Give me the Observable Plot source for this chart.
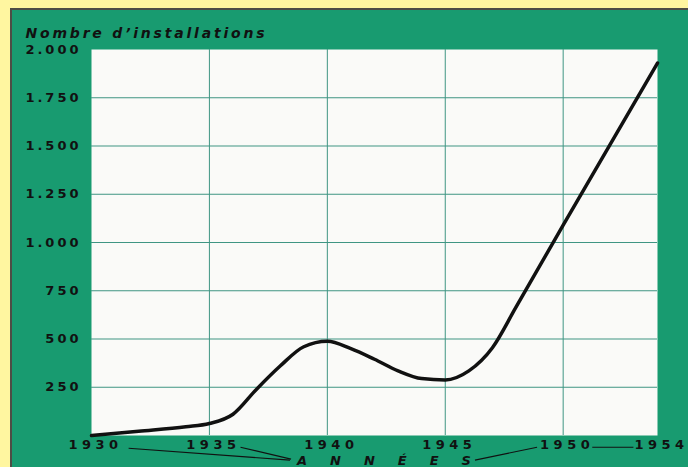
<!DOCTYPE html>
<html>
<head>
<meta charset="utf-8">
<script src="https://cdn.jsdelivr.net/npm/d3@7"></script>
<script src="https://cdn.jsdelivr.net/npm/@observablehq/plot@0.6"></script>
<style>
html,body{margin:0;padding:0;background:#fff6a0;width:688px;height:467px;overflow:hidden}
#panel{position:absolute;left:10px;top:8px;width:678px;height:459px;border-left:2px solid #4d4d45;border-top:2px solid #4d4d45;background:#189b70}
#chart{position:absolute;left:0;top:0}
#chart g[aria-label="y-axis tick label"]{font:900 13px "DejaVu Sans";letter-spacing:3px}
#chart g[aria-label="x-axis tick label"]{font:900 13px "DejaVu Sans";letter-spacing:4.5px}
</style>
</head>
<body>
<div id="panel"><div id="chart"></div></div>
<script>
// Data
const years = [1930,1932,1934,1935,1936,1937,1938,1939,1940,1941,1942,1943,1944,1945,1946,1947,1948,1950,1952,1954];
const installations = [0,22,45,62,110,240,360,460,488,450,395,335,295,288,335,455,665,1090,1510,1930];
const xTicks = [1930,1935,1940,1945,1950,1954];
const yTicks = [250,500,750,1000,1250,1500,1750,2000];
const title = "Nombre d’installations";
const axisTitle = "ANNÉES";

const data = years.map((y,i)=>({year:y, value:installations[i]}));
const fmt = d => d3.format(",")(d).replace(",", ".");
const gridColor = "#3f9583";

const plot = Plot.plot({
  width: 676, height: 457,
  marginLeft: 79, marginTop: 39, marginRight: 31, marginBottom: 32,
  style: {background: "transparent", fontFamily: "DejaVu Sans", color: "#111", overflow: "visible"},
  x: {domain: [1930, 1954], label: null},
  y: {domain: [0, 2000], label: null},
  marks: [
    Plot.frame({fill: "#fafaf8"}),
    Plot.gridX(xTicks.slice(1, -1), {stroke: gridColor, strokeOpacity: 1, strokeWidth: 1}),
    Plot.gridY(yTicks.slice(0, -1), {stroke: gridColor, strokeOpacity: 1, strokeWidth: 1}),
    Plot.axisY(yTicks, {tickSize: 0, tickPadding: 10, tickFormat: fmt, label: null, fill: "#111"}),
    Plot.axisX(xTicks, {tickSize: 0, tickPadding: 4, tickFormat: d => String(d), dx: 4, label: null, fill: "#111"}),
    Plot.line(data, {x: "year", y: "value", curve: "monotone-x", stroke: "#111", strokeWidth: 3.5, strokeLinecap: "round"}),
    Plot.text([title], {text: d => d, frameAnchor: "top-left", lineAnchor: "middle", dx: -66, dy: -16,
      fontSize: 14, fontStyle: "italic", fontWeight: 900, fill: "#111"}),
    Plot.text([axisTitle], {text: d => d, frameAnchor: "bottom", lineAnchor: "middle", dx: 21, dy: 25,
      fontSize: 13, fontStyle: "italic", fontWeight: 900, fill: "#111"})
  ]
});
document.getElementById("chart").append(plot);

const svg = plot.tagName.toLowerCase() === "svg" ? plot : plot.querySelector("svg");
const allText = Array.from(svg.querySelectorAll("text"));
const titleEl = allText.find(t => t.textContent === title);
const annEl = allText.find(t => t.textContent === axisTitle);
const annSpacing = 23;
if (titleEl) titleEl.style.letterSpacing = "2.8px";
if (annEl) annEl.style.letterSpacing = annSpacing + "px";

// Decorative connector strokes between year labels and "ANNÉES", derived from rendered label positions
const sr = svg.getBoundingClientRect();
const box = el => { const b = el.getBoundingClientRect(); return {l: b.left - sr.left, r: b.right - sr.left, cy: (b.top + b.bottom) / 2 - sr.top}; };
const labs = {};
svg.querySelectorAll('g[aria-label="x-axis tick label"] text').forEach(t => labs[t.textContent] = box(t));
const segs = [];
if (annEl) {
  const ann = box(annEl);
  const annR = ann.r - annSpacing;
  if (labs["1930"]) segs.push([labs["1930"].r + 6, labs["1930"].cy + 4, ann.l - 6, ann.cy]);
  if (labs["1935"]) segs.push([labs["1935"].r, labs["1935"].cy + 3, ann.l - 5, ann.cy - 1]);
  if (labs["1950"]) segs.push([annR + 4, ann.cy, labs["1950"].l - 3, labs["1950"].cy + 3]);
}
if (labs["1950"] && labs["1954"]) segs.push([labs["1950"].r - 2, labs["1950"].cy + 3, labs["1954"].l - 1, labs["1954"].cy + 3]);
d3.select(svg).append("g").attr("aria-label", "connectors")
  .selectAll("line").data(segs).join("line")
  .attr("x1", d => d[0]).attr("y1", d => d[1]).attr("x2", d => d[2]).attr("y2", d => d[3])
  .attr("stroke", "#111").attr("stroke-width", 1.1);
</script>
</body>
</html>
